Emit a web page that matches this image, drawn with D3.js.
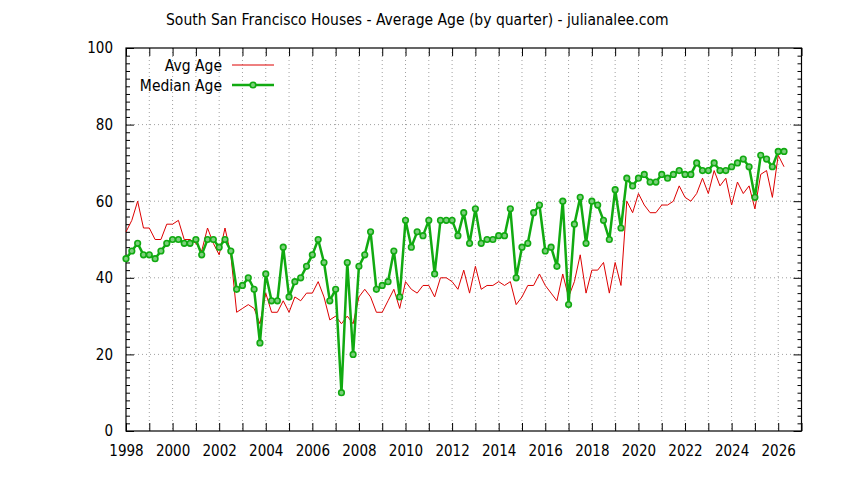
<!DOCTYPE html>
<html lang="en">
  <head>
    <meta charset="utf-8">
    <title>South San Francisco Houses - Average Age</title>
    <script src="https://cdn.jsdelivr.net/npm/d3@7/dist/d3.min.js"></script>
    <style>
      body { margin: 0; background: #fff; }
      text { font-family: "DejaVu Sans Condensed", "DejaVu Sans", sans-serif; font-stretch: condensed; fill: #000; }
    </style>
  </head>
  <body>
    <script>

      // quarterly series, first point is 1998 Q1
      var startYear = 1998
      var avgAge = [
        52,55,60,53,53,50,50,54,54,55,50,50,49,47,53,49,46,53,46,31,
        32,33,32,28,36,31,31,34,31,35,34,36,36,39,35,29,30,28,30,
        28,35,37,35,31,31,34,37,32,39,37,36,38,38,35,40,40,39,37,
        42,36,43,37,38,38,39,38,39,33,35,38,38,41,38,36,34,41,35,
        39,46,36,42,42,44,36,44,38,60,57,62,59,57,57,59,59,60,64,
        61,60,62,66,62,68,64,66,59,65,62,64,58,67,68,61,72,69
      ]
      var medianAge = [
        45,47,49,46,46,45,47,49,50,50,49,49,50,46,50,50,48,50,47,37,
        38,40,37,23,41,34,34,48,35,39,40,43,46,50,44,34,37,10,44,
        20,43,46,52,37,38,39,47,35,55,48,52,51,55,41,55,55,55,51,
        57,49,58,49,50,50,51,51,58,40,48,49,57,59,47,48,43,60,33,
        54,61,49,60,59,55,50,63,53,66,64,66,67,65,65,67,66,67,68,
        67,67,70,68,68,70,68,68,69,70,71,69,61,72,71,69,73,73
      ]
      var xTickYears = d3.range(1998, 2028, 1)
      var yLabels = [0, 20, 40, 60, 80, 100]
      var yGrid = [20, 40, 60, 80]
      var legendNames = ["Avg Age", "Median Age"]
      var title = "South San Francisco Houses - Average Age (by quarter) - julianalee.com"

      var W = 844, H = 480
      var pLeft = 126, pRight = 801.5, pTop = 48, pBottom = 431
      var red = "#dd0000", green = "#11aa11"

      var svg = d3.select("body").append("svg")
                  .attr("width", W)
                  .attr("height", H)

      var x = d3.scaleLinear().domain([1998, 2027]).range([pLeft, pRight])
      var y = d3.scaleLinear().domain([0, 100]).range([pBottom, pTop])

      function qx(d, i) { return x(startYear + i / 4) }

      // grid
      svg.selectAll("line.vgrid")
         .data(xTickYears.filter(function(d) { return d > 1998 }))
         .enter().append("line")
         .attr("x1", function(d) { return x(d) }).attr("x2", function(d) { return x(d) })
         .attr("y1", pTop).attr("y2", pBottom)
         .attr("stroke", "#a0a0a0").attr("stroke-dasharray", "1,3")
      svg.selectAll("line.hgrid")
         .data(yGrid)
         .enter().append("line")
         .attr("x1", pLeft).attr("x2", pRight)
         .attr("y1", function(d) { return y(d) }).attr("y2", function(d) { return y(d) })
         .attr("stroke", "#a0a0a0").attr("stroke-dasharray", "1,3")

      // axes: bottom/left with labels, top/right mirrored ticks only
      var gx = svg.append("g").attr("transform", "translate(0," + pBottom + ")")
        .call(d3.axisBottom(x).tickValues(xTickYears).tickSizeInner(-8).tickSizeOuter(0)
              .tickFormat(function(d) { return d % 2 == 0 ? d : "" }).tickPadding(14))
      var gxt = svg.append("g").attr("transform", "translate(0," + pTop + ")")
        .call(d3.axisTop(x).tickValues(xTickYears).tickSizeInner(-8).tickSizeOuter(0).tickFormat(""))
      var yMinor = d3.range(0, 101, 2)
      var gy = svg.append("g").attr("transform", "translate(" + pLeft + ",0)")
        .call(d3.axisLeft(y).tickValues(yMinor).tickSizeInner(-4).tickSizeOuter(0)
              .tickFormat(function(d) { return yLabels.indexOf(d) >= 0 ? d : "" }).tickPadding(13))
      var gyr = svg.append("g").attr("transform", "translate(" + pRight + ",0)")
        .call(d3.axisRight(y).tickValues(yMinor).tickSizeInner(-4).tickSizeOuter(0).tickFormat(""))
      ;[gy, gyr].forEach(function(g) {
        g.selectAll(".tick line").filter(function(d) { return yLabels.indexOf(d) >= 0 })
         .attr("x2", g === gy ? 8 : -8)
      })
      ;[gx, gxt, gy, gyr].forEach(function(g) {
        g.select(".domain").remove()
        g.selectAll(".tick line").attr("stroke", "#000")
        g.selectAll("text").attr("font-size", 15).attr("font-family", null)
      })

      svg.append("rect")
         .attr("x", pLeft).attr("y", pTop)
         .attr("width", pRight - pLeft).attr("height", pBottom - pTop)
         .attr("fill", "none").attr("stroke", "#000").attr("stroke-width", 1.2)

      // series
      var line = d3.line().x(qx).y(function(d) { return y(d) })

      svg.append("path").datum(avgAge)
         .attr("d", line)
         .attr("fill", "none").attr("stroke", red).attr("stroke-width", 1)

      svg.append("path").datum(medianAge)
         .attr("d", line)
         .attr("fill", "none").attr("stroke", green).attr("stroke-width", 2.5)
         .attr("stroke-linejoin", "round")

      svg.selectAll("circle.pt")
         .data(medianAge)
         .enter().append("circle")
         .attr("cx", qx)
         .attr("cy", function(d) { return y(d) })
         .attr("r", 2.8)
         .attr("fill", "#7ccf7c").attr("stroke", green).attr("stroke-width", 1.6)

      // legend
      var leg = svg.append("g")
      leg.selectAll("text")
         .data(legendNames)
         .enter().append("text")
         .attr("x", 222)
         .attr("y", function(d, i) { return 71 + i * 20 })
         .attr("text-anchor", "end")
         .attr("font-size", 15.5)
         .text(function(d) { return d })
      leg.append("line").attr("x1", 232).attr("x2", 274).attr("y1", 65).attr("y2", 65)
         .attr("stroke", red).attr("stroke-width", 1)
      leg.append("line").attr("x1", 232).attr("x2", 274).attr("y1", 85).attr("y2", 85)
         .attr("stroke", green).attr("stroke-width", 2.5)
      leg.append("circle").attr("cx", 253).attr("cy", 85).attr("r", 2.8)
         .attr("fill", "#7ccf7c").attr("stroke", green).attr("stroke-width", 1.6)

      svg.append("text")
         .attr("x", 166).attr("y", 25)
         .attr("font-size", 15.5)
         .text(title)

    </script>
  </body>
</html>
